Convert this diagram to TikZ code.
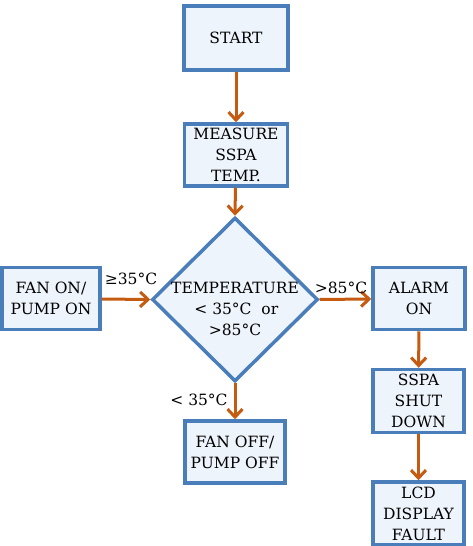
\documentclass[tikz,border=0pt]{standalone}
\usepackage{fontspec}
\setmainfont{DejaVu Serif}
\usetikzlibrary{shapes.geometric,arrows.meta}

\definecolor{boxblue}{RGB}{74,126,187}
\definecolor{boxfill}{RGB}{238,244,252}
\definecolor{flow}{RGB}{197,90,17}

\tikzset{
  procbox/.style={draw=boxblue, line width=3.5pt, fill=boxfill, align=center,
    inner sep=1pt, font=\fontsize{15.5}{21}\selectfont},
  decbox/.style={diamond, draw=boxblue, line width=3.5pt, fill=boxfill,
    inner sep=0pt, minimum width=166pt, minimum height=164pt},
  flowline/.style={draw=flow, line width=3pt,
    -{Straight Barb[length=8pt,width=15pt,line width=3pt]}},
  condlabel/.style={font=\fontsize{15.5}{18}\selectfont, inner sep=0pt}
}

\begin{document}
\begin{tikzpicture}[x=1pt,y=1pt]
  \useasboundingbox (0,0) rectangle (472,-546);

  % boxes of the flow
  \node[procbox, minimum width=104pt, minimum height=64pt] (start) at (236,-38) {START};
  \node[procbox, minimum width=103pt, minimum height=62pt] (measure) at (236,-155) {MEASURE\\SSPA\\TEMP.};
  \node[decbox] (check) at (235,-299.5) {};
  \node[align=center, font=\fontsize{15.5}{21}\selectfont, inner sep=0pt] (checktext) at (235,-309)
    {TEMPERATURE\\\,< 35°C~ or\\>85°C};
  \node[procbox, minimum width=98pt, minimum height=62pt] (fanon) at (51,-298.5) {FAN ON/\\PUMP ON};
  \node[procbox, minimum width=100pt, minimum height=62pt] (fanoff) at (235,-452) {FAN OFF/\\PUMP OFF};
  \node[procbox, minimum width=92pt, minimum height=62pt] (alarm) at (419,-298.5) {ALARM\\ON};
  \node[procbox, minimum width=91pt, minimum height=63pt] (shut) at (418.5,-401) {SSPA\\SHUT\\DOWN};
  \node[procbox, minimum width=91pt, minimum height=63pt] (lcd) at (418.5,-513.5) {LCD\\DISPLAY\\FAULT};

  % connectors
  \draw[flowline] (start) -- (measure);
  \draw[flowline] (measure) -- (check.north);
  \draw[flowline] (fanon) -- (check.west);
  \draw[flowline] (check.east) -- (alarm);
  \draw[flowline] (check.south) -- (fanoff);
  \draw[flowline] (alarm) -- (shut);
  \draw[flowline] (shut) -- (lcd);

  % conditions
  \node[condlabel] (geq) at (131,-279) {≥35°C};
  \node[condlabel] (gt) at (341,-288) {>85°C};
  \node[condlabel] (lt) at (199,-400) {< 35°C};
\end{tikzpicture}
\end{document}
